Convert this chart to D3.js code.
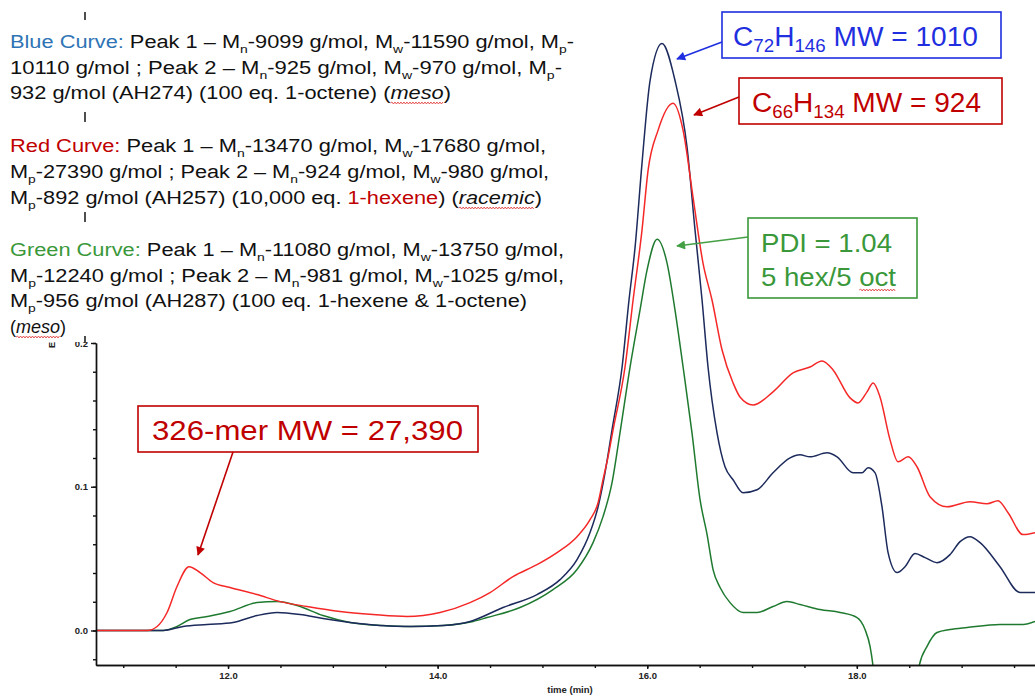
<!DOCTYPE html>
<html>
<head>
<meta charset="utf-8">
<script src="https://cdn.jsdelivr.net/npm/d3@7"></script>
<style>
  body { margin: 0; background: #fff; }
  svg { display: block; font-family: "Liberation Sans", Arial, sans-serif; }
  text { white-space: pre; }
</style>
</head>
<body>
<div id="chart"></div>
<script>
// DATA (time in min, detector response)
// ---------------------------------------------------------------------------------------------
const blueCurve = [[10.74,0],[11.38,0],[11.571,0.0028],[11.8,0.0042],[12.048,0.0056],[12.277,0.0104],[12.468,0.0125],
  [12.687,0.0111],[12.906,0.0083],[13.164,0.0056],[13.45,0.0035],[13.737,0.0028],[14.052,0.0035],[14.309,0.0063],
  [14.624,0.016],[14.948,0.025],[15.168,0.0354],[15.33,0.0493],[15.454,0.0681],[15.531,0.0861],[15.597,0.1097],
  [15.664,0.1396],[15.76,0.1833],[15.826,0.2299],[15.884,0.2667],[15.95,0.325],[16.027,0.3826],[16.141,0.4083],
  [16.265,0.3826],[16.38,0.3361],[16.456,0.2785],[16.523,0.2299],[16.58,0.1833],[16.666,0.1375],[16.742,0.1139],
  [16.819,0.1049],[16.914,0.0958],[17.048,0.0979],[17.2,0.1097],[17.363,0.1201],[17.458,0.1222],[17.553,0.1208],
  [17.716,0.1236],[17.811,0.1208],[17.964,0.1097],[18.05,0.1097],[18.107,0.1132],[18.174,0.1097],[18.24,0.0861],
  [18.298,0.0542],[18.384,0.0403],[18.46,0.0444],[18.555,0.0535],[18.651,0.0507],[18.765,0.0472],[18.889,0.0528],
  [18.985,0.0618],[19.08,0.0653],[19.176,0.0611],[19.366,0.0444],[19.557,0.0264],[19.7,0.0264]];

const redCurve = [[10.74,0],[11.227,0],[11.323,0.0028],[11.418,0.0125],[11.513,0.0306],[11.628,0.0444],[11.733,0.0403],
  [11.857,0.0333],[12.019,0.0299],[12.277,0.025],[12.496,0.0201],[12.754,0.0167],[13.069,0.0132],[13.384,0.0111],
  [13.708,0.0097],[14.023,0.0125],[14.309,0.0194],[14.5,0.0264],[14.719,0.0375],[14.948,0.0458],[15.139,0.0542],
  [15.33,0.0653],[15.454,0.0771],[15.531,0.0889],[15.578,0.1049],[15.626,0.1208],[15.674,0.1396],[15.788,0.1833],
  [15.865,0.2299],[15.95,0.2785],[16.008,0.3201],[16.103,0.3479],[16.246,0.3667],[16.342,0.3479],[16.437,0.3014],
  [16.532,0.2556],[16.618,0.2299],[16.714,0.1951],[16.819,0.1722],[16.885,0.1625],[17.01,0.1569],[17.2,0.166],
  [17.391,0.1792],[17.553,0.1833],[17.668,0.1875],[17.773,0.1813],[17.935,0.1618],[18.011,0.1583],[18.097,0.166],
  [18.155,0.1722],[18.221,0.1625],[18.317,0.1326],[18.393,0.1174],[18.489,0.1208],[18.574,0.1139],[18.698,0.0931],
  [18.861,0.0861],[19.08,0.0896],[19.242,0.0882],[19.347,0.0903],[19.443,0.0819],[19.586,0.0667],[19.7,0.0681]];

const greenCurve = [[10.74,0],[11.38,0],[11.513,0.0028],[11.637,0.0076],[11.8,0.0097],[12.019,0.0132],[12.277,0.0194],
  [12.468,0.0201],[12.658,0.0174],[12.906,0.0104],[13.164,0.0056],[13.479,0.0035],[13.737,0.0028],[14.052,0.0035],
  [14.338,0.0063],[14.471,0.009],[14.786,0.016],[15.101,0.0285],[15.33,0.0424],[15.483,0.0611],[15.578,0.0792],
  [15.664,0.1028],[15.74,0.1375],[15.836,0.1833],[15.931,0.2229],[15.998,0.2507],[16.094,0.2722],[16.189,0.2556],
  [16.265,0.2229],[16.342,0.1833],[16.427,0.1375],[16.504,0.091],[16.571,0.0667],[16.628,0.0424],[16.695,0.0299],
  [16.79,0.0194],[16.914,0.0125],[17.048,0.0125],[17.2,0.0167],[17.334,0.0201],[17.458,0.0181],[17.649,0.0146],
  [17.84,0.0125],[18.002,0.009],[18.078,0.0007],[18.126,-0.0111],[18.155,-0.025],[18.2,-0.06],[18.527,-0.06],
  [18.594,-0.025],[18.67,-0.0111],[18.765,-0.0014],[18.889,0.0007],[19.052,0.0021],[19.366,0.0042],[19.586,0.0042],
  [19.7,0.0063]];

const xMajorTicks = [12, 14, 16, 18];
const xMinorTicks = [11, 11.5, 12, 12.5, 13, 13.5, 14, 14.5, 15, 15.5, 16, 16.5, 17, 17.5, 18, 18.5, 19, 19.5];
const yMajorTicks = [0.0, 0.1, 0.2];
const yMinorTicks = [-0.02, 0, 0.02, 0.04, 0.06, 0.08, 0.1, 0.12, 0.14, 0.16, 0.18, 0.2];
const xTitle = "time (min)";

// text block: {c:...} coloured, [x] subscript, *x* italic
const noteLines = [
  "{b:Blue Curve:} Peak 1 – M[n]-9099 g/mol, M[w]-11590 g/mol, M[p]-",
  "10110 g/mol ; Peak 2 – M[n]-925 g/mol, M[w]-970 g/mol, M[p]-",
  "932 g/mol (AH274) (100 eq. 1-octene) (*meso*)",
  "{r:Red Curve:} Peak 1 – M[n]-13470 g/mol, M[w]-17680 g/mol,",
  "M[p]-27390 g/mol ; Peak 2 – M[n]-924 g/mol, M[w]-980 g/mol,",
  "M[p]-892 g/mol (AH257) (10,000 eq. {r:1-hexene}) (*racemic*)",
  "{g:Green Curve:} Peak 1 – M[n]-11080 g/mol, M[w]-13750 g/mol,",
  "M[p]-12240 g/mol ; Peak 2 – M[n]-981 g/mol, M[w]-1025 g/mol,",
  "M[p]-956 g/mol (AH287) (100 eq. 1-hexene & 1-octene)",
  "(*meso*)"
];
const noteBaselines = [48, 74, 99, 152, 178, 204, 256, 282, 307, 333];
const noteWidths = [564, 552, 441, 536, 539, 532, 554, 554, 517, null];
const colorKey = { b: "#2e74b5", r: "#c00000", g: "#3a983a" };

// SETUP
// ---------------------------------------------------------------------------------------------
const width = 1035, height = 696;
const x = d3.scaleLinear([10.74, 19.70], [96, 1035]);
const y = d3.scaleLinear([-0.024, 0.2], [665, 343]);

const svg = d3.select("#chart").append("svg")
  .attr("width", width)
  .attr("height", height);

const defs = svg.append("defs");
defs.append("clipPath").attr("id", "plotClip")
  .append("rect").attr("x", 96).attr("y", 0).attr("width", 940).attr("height", 665);

function addMarker(id, color) {
  defs.append("marker")
    .attr("id", id)
    .attr("viewBox", "0 0 10 10")
    .attr("refX", 9).attr("refY", 5)
    .attr("markerUnits", "userSpaceOnUse")
    .attr("markerWidth", 11).attr("markerHeight", 9)
    .attr("orient", "auto")
    .append("path").attr("d", "M0,0 L10,5 L0,10 z").attr("fill", color);
}
addMarker("arrBlue", "#1f2fe0");
addMarker("arrRed", "#c00000");
addMarker("arrGreen", "#44a044");

// CURVES
// ---------------------------------------------------------------------------------------------
const line = d3.line()
  .x(d => x(d[0]))
  .y(d => y(d[1]))
  .curve(d3.curveMonotoneX);

const curves = svg.append("g").attr("clip-path", "url(#plotClip)");
[[greenCurve, "#1f7a30"], [blueCurve, "#1c2a5c"], [redCurve, "#f52828"]].forEach(([data, color]) => {
  curves.append("path")
    .datum(data)
    .attr("fill", "none")
    .attr("stroke", color)
    .attr("stroke-width", 1.5)
    .attr("d", line);
});

// AXES
// ---------------------------------------------------------------------------------------------
svg.append("g")
  .attr("transform", "translate(0,665)")
  .call(d3.axisBottom(x).tickValues(xMajorTicks).tickFormat(d3.format(".1f")).tickSize(4).tickSizeOuter(0).tickPadding(3));
svg.append("g")
  .attr("transform", "translate(0,665)")
  .call(d3.axisBottom(x).tickValues(xMinorTicks).tickFormat("").tickSize(3).tickSizeOuter(0));

svg.append("g")
  .attr("transform", "translate(96,0)")
  .call(d3.axisLeft(y).tickValues(yMajorTicks).tickFormat(d3.format(".1f")).tickSize(5).tickSizeOuter(0).tickPadding(3));
svg.append("g")
  .attr("transform", "translate(96,0)")
  .call(d3.axisLeft(y).tickValues(yMinorTicks).tickFormat("").tickSize(3).tickSizeOuter(0));

svg.selectAll(".domain, .tick line").attr("stroke", "#111").attr("stroke-width", 1.4);
svg.selectAll(".tick text")
  .attr("font-family", "'Liberation Sans', Arial, sans-serif")
  .attr("font-size", 9.5)
  .attr("font-weight", "bold")
  .attr("fill", "#222");

svg.append("text")
  .attr("x", 570).attr("y", 693)
  .attr("text-anchor", "middle")
  .attr("font-size", 9.5)
  .attr("font-weight", "bold")
  .attr("fill", "#222")
  .text(xTitle);

// TEXT BLOCK (white background covers top of the axis)
// ---------------------------------------------------------------------------------------------
svg.append("rect").attr("x", 0).attr("y", 0).attr("width", 592).attr("height", 342).attr("fill", "#fff");

svg.append("text")
  .attr("transform", "translate(55,348) rotate(-90)")
  .attr("font-size", 9)
  .attr("font-weight", "bold")
  .attr("fill", "#222")
  .text("E");

[[12, 20], [112, 122], [212, 222], [336, 343]].forEach(([a, b]) => {
  svg.append("line").attr("x1", 85).attr("x2", 85).attr("y1", a).attr("y2", b)
    .attr("stroke", "#222").attr("stroke-width", 1.6);
});

function parseLine(str) {
  return str.split(/(\[[^\]]*\]|\{[a-z]:[^}]*\}|\*[^*]*\*)/).filter(s => s.length).map(p => {
    if (p[0] === "[") return { text: p.slice(1, -1), sub: true };
    if (p[0] === "{") return { text: p.slice(3, -1), color: colorKey[p[1]] };
    if (p[0] === "*") return { text: p.slice(1, -1), italic: true };
    return { text: p };
  });
}

function squiggle(x0, x1, yy) {
  let d = `M${x0},${yy}`;
  let up = true;
  for (let xx = x0 + 1.5; xx <= x1; xx += 1.5) {
    d += ` L${xx},${yy + (up ? -1 : 1)}`;
    up = !up;
  }
  svg.append("path").attr("d", d).attr("fill", "none").attr("stroke", "#e03030").attr("stroke-width", 0.8);
}

function richText(parent, segs, opts) {
  const t = parent.append("text")
    .attr("x", opts.x).attr("y", opts.y)
    .attr("font-size", opts.size)
    .attr("fill", opts.color);
  if (opts.len) t.attr("textLength", opts.len).attr("lengthAdjust", "spacingAndGlyphs");
  let shifted = false, idx = 0;
  const wavy = [];
  segs.forEach(s => {
    const ts = t.append("tspan").text(s.text);
    if (s.sub) {
      ts.attr("font-size", opts.subSize).attr("dy", opts.subShift);
      shifted = true;
    } else if (shifted) {
      ts.attr("dy", -opts.subShift);
      shifted = false;
    }
    if (s.color) ts.attr("fill", s.color);
    if (s.italic) { ts.attr("font-style", "italic"); wavy.push([idx, idx + s.text.length - 1]); }
    if (s.wavy) wavy.push([idx, idx + s.text.length - 1]);
    idx += s.text.length;
  });
  const node = t.node();
  wavy.forEach(([a, b]) => {
    squiggle(node.getStartPositionOfChar(a).x, node.getEndPositionOfChar(b).x, opts.y + 4);
  });
  return t;
}

const notes = svg.append("g");
noteLines.forEach((str, i) => {
  richText(notes, parseLine(str), {
    x: 10, y: noteBaselines[i], size: 18, color: "#111",
    len: noteWidths[i], subSize: 11.5, subShift: 5
  });
});

// ANNOTATION BOXES
// ---------------------------------------------------------------------------------------------
function box(x0, y0, w, h, color) {
  svg.append("rect").attr("x", x0).attr("y", y0).attr("width", w).attr("height", h)
    .attr("fill", "#fff").attr("stroke", color).attr("stroke-width", 1.6);
}
function arrow(x1, y1, x2, y2, color, marker) {
  svg.append("line").attr("x1", x1).attr("y1", y1).attr("x2", x2).attr("y2", y2)
    .attr("stroke", color).attr("stroke-width", 1.6)
    .attr("marker-end", `url(#${marker})`);
}

// C72H146
box(722, 12, 279, 46, "#1f2fe0");
richText(svg, [{ text: "C" }, { text: "72", sub: true }, { text: "H" }, { text: "146", sub: true }, { text: " MW = 1010" }],
  { x: 733, y: 46, size: 27, color: "#1f2fe0", len: 245, subSize: 18, subShift: 6 });
arrow(722, 42, 677, 59, "#1f2fe0", "arrBlue");

// C66H134
box(739, 78, 263, 46, "#c00000");
richText(svg, [{ text: "C" }, { text: "66", sub: true }, { text: "H" }, { text: "134", sub: true }, { text: " MW = 924" }],
  { x: 752, y: 112, size: 27, color: "#c00000", len: 229, subSize: 18, subShift: 6 });
arrow(739, 97, 694, 115, "#c00000", "arrRed");

// PDI
box(748, 218, 169, 80, "#3a983a");
richText(svg, [{ text: "PDI = 1.04" }], { x: 761, y: 252, size: 25, color: "#3a983a", len: 131 });
richText(svg, [{ text: "5 hex/5 " }, { text: "oct", wavy: true }], { x: 761, y: 286, size: 25, color: "#3a983a", len: 135 });
arrow(748, 237, 677, 246, "#44a044", "arrGreen");

// 326-mer
box(138, 406, 340, 46, "#c00000");
richText(svg, [{ text: "326-mer MW = 27,390" }], { x: 152, y: 440, size: 27, color: "#c00000", len: 311 });
arrow(233, 452, 198, 555, "#c00000", "arrRed");
</script>
</body>
</html>
